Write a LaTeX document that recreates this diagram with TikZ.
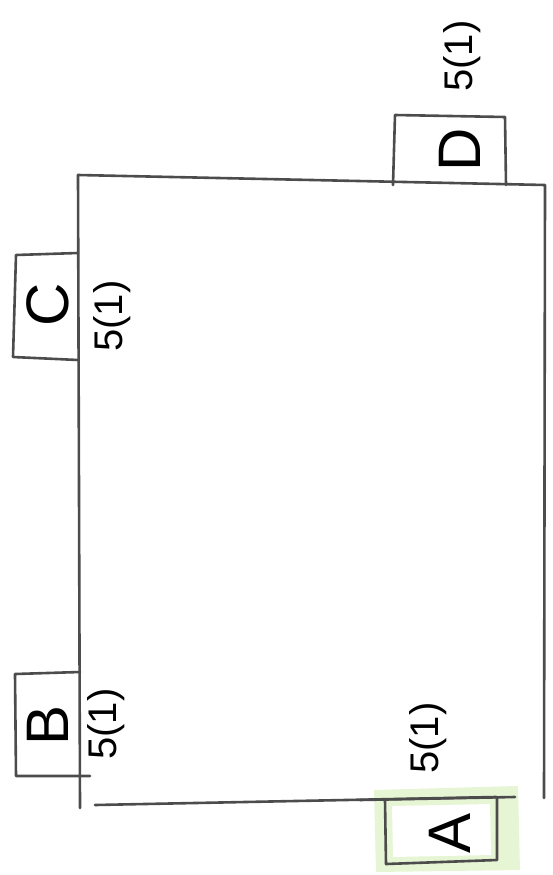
\documentclass[tikz,border=0pt]{standalone}
\usepackage{fontspec}
\setmainfont{Liberation Sans}
\begin{document}
\begin{tikzpicture}[x=1pt,y=-1pt,
  pen/.style={draw=black!70,line width=2.6pt,line cap=round,line join=round},
  letter/.style={rotate=90,text=black,font=\fontsize{60}{60}\selectfont,inner sep=0pt},
  qty/.style={rotate=90,text=black,font=\fontsize{40}{40}\selectfont,inner sep=0pt}]
\useasboundingbox (0,0) rectangle (552,875);
% yellow highlight around A
\fill[yellow!45!green!22,opacity=0.8] (374,790) -- (518,786) -- (520,870) -- (376,872) -- cycle;
\fill[white] (392,806) -- (490,804) -- (491,855) -- (393,857) -- cycle;
% main rectangle
\draw[pen] (78,175) -- (545,185) -- (544,798);
\draw[pen] (78,175) -- (80,808);
\draw[pen] (95,805) -- (496,797);
% box A
\draw[pen] (360,800) -- (515,797);
\draw[pen] (385,800) -- (386,864) -- (497,860) -- (497,797);
% box B
\draw[pen] (80,672) -- (15,674) -- (16,776) -- (90,776);
% box C
\draw[pen] (78,253) -- (16,255) -- (13,357) -- (78,360);
% box D
\draw[pen] (393,185) -- (395,115) -- (505,117) -- (506,185);
% labels
\node[letter] (A) at (450,833) {A};
\node[letter] (B) at (48,725) {B};
\node[letter] (C) at (48,305) {C};
\node[letter] (D) at (460,150) {D};
\node[qty] (qA) at (428,738) {5(1)};
\node[qty] (qB) at (106,724) {5(1)};
\node[qty] (qC) at (112,316) {5(1)};
\node[qty] (qD) at (462,56) {5(1)};
\end{tikzpicture}
\end{document}
